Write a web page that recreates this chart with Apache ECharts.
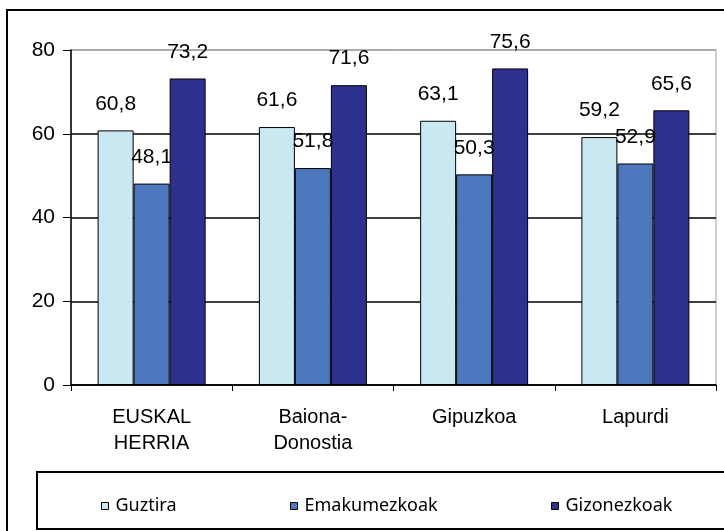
<!DOCTYPE html>
<html>
<head>
<meta charset="utf-8">
<script src="https://cdn.jsdelivr.net/npm/echarts@6/dist/echarts.min.js"></script>
<style>
  html, body { margin: 0; padding: 0; background: #fff; }
  #chart { width: 724px; height: 531px; }
</style>
</head>
<body>
<div id="chart"></div>
<script>
const categories = ['EUSKAL\nHERRIA', 'Baiona-\nDonostia', 'Gipuzkoa', 'Lapurdi']
const seriesNames = ['Guztira', 'Emakumezkoak', 'Gizonezkoak']
const guztira = [60.8, 61.6, 63.1, 59.2]
const emakumezkoak = [48.1, 51.8, 50.3, 52.9]
const gizonezkoak = [73.2, 71.6, 75.6, 65.6]
const yTicks = [0, 20, 40, 60, 80]

const colors = ['#c9e8f1', '#4e78be', '#2e308f']
const values = [guztira, emakumezkoak, gizonezkoak]

let myChart = echarts.init(document.getElementById('chart'))

// etiketak komaz (60,8)
const fmt = p => String(p.value).replace('.', ',')

const makeSeries = (i) => ({
    name: seriesNames[i],
    type: 'bar',
    data: values[i],
    barWidth: 36,
    barGap: 0,
    itemStyle: {
        color: colors[i],
        borderColor: '#000',
        borderWidth: 1
    },
    label: {
        show: true,
        position: 'top',
        distance: 16,
        formatter: fmt,
        color: '#000',
        fontFamily: 'Liberation Sans',
        fontSize: 21
    }
})

// legend bakoitza bere lekuan
const legendLefts = [96, 285, 546]
const legends = seriesNames.map((n, i) => ({
    data: [n],
    left: legendLefts[i],
    top: 492,
    icon: 'rect',
    itemWidth: 7,
    itemHeight: 7,
    itemGap: 0,
    itemStyle: { borderColor: '#000', borderWidth: 1 },
    textStyle: {
        fontFamily: 'Noto Sans',
        fontSize: 18,
        color: '#000',
        padding: [0, 0, 0, 2]
    }
}))

var option = {
    animation: false,
    color: colors,
    graphic: [
        {
            type: 'rect',
            shape: { x: 7, y: 10, width: 730, height: 540 },
            style: { fill: 'none', stroke: '#000', lineWidth: 2 },
            silent: true
        },
        {
            type: 'rect',
            shape: { x: 37, y: 472, width: 700, height: 57 },
            style: { fill: 'none', stroke: '#000', lineWidth: 2 },
            silent: true
        }
    ],
    legend: legends,
    grid: {
        left: 71,
        right: 8,
        top: 50,
        bottom: 146,
        show: true,
        borderColor: '#a0a0a0',
        borderWidth: 1
    },
    xAxis: {
        type: 'category',
        data: categories,
        axisLine: { lineStyle: { color: '#000', width: 1.5 } },
        axisTick: { show: true, length: 6, lineStyle: { color: '#000' } },
        axisLabel: {
            margin: 19,
            color: '#000',
            fontFamily: 'Liberation Sans',
            fontSize: 20,
            lineHeight: 26
        }
    },
    yAxis: {
        type: 'value',
        min: yTicks[0],
        max: yTicks[yTicks.length - 1],
        interval: 20,
        axisLine: { show: true, lineStyle: { color: '#000', width: 1.5 } },
        axisTick: { show: true, length: 8, lineStyle: { color: '#000' } },
        axisLabel: {
            margin: 16,
            color: '#000',
            fontFamily: 'Liberation Sans',
            fontSize: 21
        },
        splitLine: {
            show: true,
            lineStyle: { color: ['#000', '#000', '#000', '#000', '#a0a0a0'], width: 1.5 }
        }
    },
    series: [makeSeries(0), makeSeries(1), makeSeries(2)]
};
myChart.setOption(option);
</script>
</body>
</html>
